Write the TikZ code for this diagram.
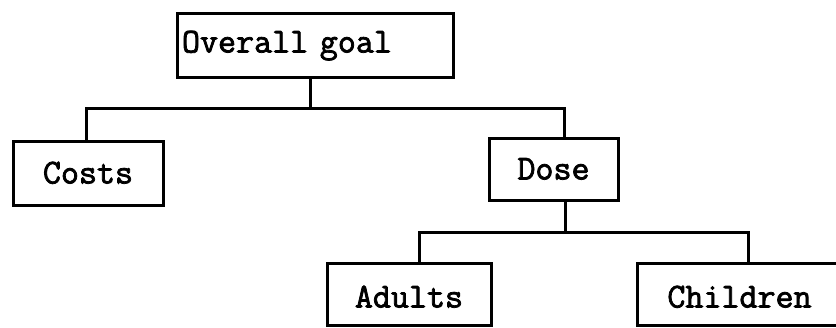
\documentclass[tikz,border=0pt]{standalone}
\usepackage{fontspec}
\newfontfamily\boxfont{Latin Modern Mono}[FakeBold=2.2]
\begin{document}
\begin{tikzpicture}[x=1pt,y=-1pt,
  line width=3pt,
  box/.style={draw, rectangle, inner sep=0pt, outer sep=0pt,
    font=\boxfont\fontsize{35}{35}\selectfont,
    text height=21pt, text depth=0pt},
  goalbox/.style={box, inner xsep=5pt, text width=266pt, align=left,
    minimum height=64pt, text depth=6pt},
  link/.style={line width=3pt}]
\useasboundingbox (0,0) rectangle (836,327);
\clip (0,0) rectangle (836,327);
\node[goalbox] (top) at (315,45) {Overall goal};
\node[box, minimum width=150pt, minimum height=64pt] (costs) at (88,173) {Costs};
\node[box, minimum width=129pt, minimum height=62pt] (dose) at (553.5,169) {Dose};
\node[box, minimum width=164pt, minimum height=62pt, text height=27pt] (adults) at (409,294) {Adults};
\node[box, minimum width=205pt, minimum height=62pt, text height=27pt] (children) at (739.5,294) {Children};
\coordinate (j1) at (310,108);
\coordinate (j2) at (565,232);
\draw[link] (top.south -| j1) -- (j1);
\draw[link] ([xshift=-2pt]costs.north) |- (j1) -| ([xshift=10.5pt]dose.north);
\draw[link] (dose.south -| j2) -- (j2);
\draw[link] ([xshift=10pt]adults.north) |- (j2) -| ([xshift=8.5pt]children.north);
\end{tikzpicture}
\end{document}
